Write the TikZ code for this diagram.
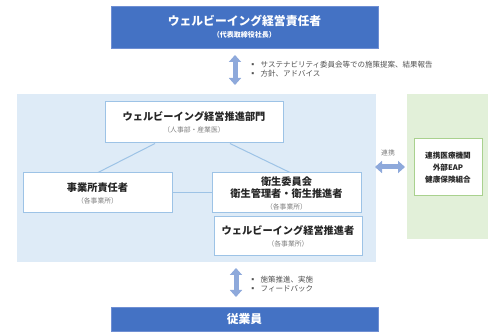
\documentclass[tikz,border=0pt]{standalone}
\usepackage{fontspec}
\setmainfont{Noto Sans CJK JP}
\usetikzlibrary{arrows.meta}
\definecolor{topblue}{HTML}{4472C4}
\definecolor{topline}{HTML}{6F8FD3}
\definecolor{panelblue}{HTML}{DEEBF7}
\definecolor{panelgreen}{HTML}{E2F0D9}
\definecolor{boxline}{HTML}{9DC3E6}
\definecolor{greenline}{HTML}{A9D18E}
\definecolor{arrowblue}{HTML}{8EA9DB}
\definecolor{darktext}{HTML}{262626}
\definecolor{graytext}{HTML}{7F7F7F}
\newcommand{\ttlA}{\fontsize{11.8}{12}\selectfont\bfseries}
\newcommand{\ttlB}{\fontsize{10.2}{11.5}\selectfont\bfseries}
\newcommand{\subt}{\fontsize{6.8}{11}\selectfont\mdseries\color{graytext}}
\newcommand{\bul}{\fontsize{7.5}{9}\selectfont}
\begin{document}
\begin{tikzpicture}[x=1pt,y=-1pt,
  bigbox/.style={fill=topblue, draw=topline, line width=0.8pt, text=white, align=center, inner sep=0pt},
  wbox/.style={fill=white, draw=boxline, line width=1pt, align=center, inner sep=0pt, text=darktext},
  gbox/.style={fill=white, draw=greenline, line width=1pt, align=center, inner sep=0pt, text=darktext},
  conn/.style={draw=boxline, line width=1pt},
  dblarrow/.style={draw=arrowblue, line width=5pt, {Triangle[width=12pt,length=7pt]}-{Triangle[width=12pt,length=7pt]}},
  note/.style={text=darktext!80, align=left, anchor=west, inner sep=0pt}
]
\useasboundingbox (0,0) rectangle (499,336);
% panels
\fill[panelblue] (17,94) rectangle (376,262);
\fill[panelgreen] (407,94) rectangle (488,239);

% top and bottom boxes
\node[bigbox, minimum width=267pt, minimum height=42pt] (top) at (244.5,27)
  {\ttlA ウェルビーイング経営責任者\\ \fontsize{7}{12}\selectfont\bfseries （代表取締役社長）};
\node[bigbox, minimum width=267pt, minimum height=24pt] (emp) at (244.5,319)
  {\ttlA 従業員};

% inner boxes
\node[wbox, minimum width=178pt, minimum height=41pt] (dept) at (194,122.5)
  {\ttlB ウェルビーイング経営推進部門\\ \subt （人事部・産業医）};
\node[wbox, minimum width=149pt, minimum height=40pt] (office) at (97.5,193)
  {\ttlB 事業所責任者\\ \subt （各事業所）};
\node[wbox, minimum width=149pt, minimum height=40pt] (health) at (286.5,193)
  {\ttlB 衛生委員会\\ \ttlB 衛生管理者・衛生推進者\\ \subt （各事業所）};
\node[wbox, minimum width=148pt, minimum height=39pt] (promo) at (288,236.5)
  {\ttlB ウェルビーイング経営推進者\\ \subt （各事業所）};
\node[gbox, minimum width=68pt, minimum height=57pt] (ext) at (448,167.5)
  {\fontsize{7.6}{9}\selectfont\bfseries 連携医療機関\\ \fontsize{7.6}{9}\selectfont\bfseries 外部EAP\\ \fontsize{7.6}{9}\selectfont\bfseries 健康保険組合};

% connectors
\draw[conn] ([xshift=-39pt]dept.south) -- ([xshift=0.5pt]office.north);
\draw[conn] ([xshift=36pt]dept.south) -- ([xshift=3.5pt]health.north);
\draw[conn] (office.east) -- (health.west);

% arrows
\coordinate (a1) at (235,55);
\coordinate (a2) at (235,85);
\coordinate (b1) at (236,268);
\coordinate (b2) at (236,297);
\coordinate (c1) at (375,167);
\coordinate (c2) at (405,167);
\draw[dblarrow] (a1) -- (a2);
\draw[dblarrow] (b1) -- (b2);
\draw[dblarrow] (c1) -- (c2);

% notes
\node[note] (n1) at (249,65) {\bul ▪\hspace{4pt}サステナビリティ委員会等での施策提案、結果報告};
\node[note] (n2) at (249,74) {\bul ▪\hspace{4pt}方針、アドバイス};
\node[note] (n3) at (249,280) {\bul ▪\hspace{4pt}施策推進、実施};
\node[note] (n4) at (249,289) {\bul ▪\hspace{4pt}フィードバック};
\node[text=graytext, inner sep=0pt] (lk) at (388,153) {\fontsize{6.8}{8}\selectfont 連携};
\end{tikzpicture}
\end{document}
